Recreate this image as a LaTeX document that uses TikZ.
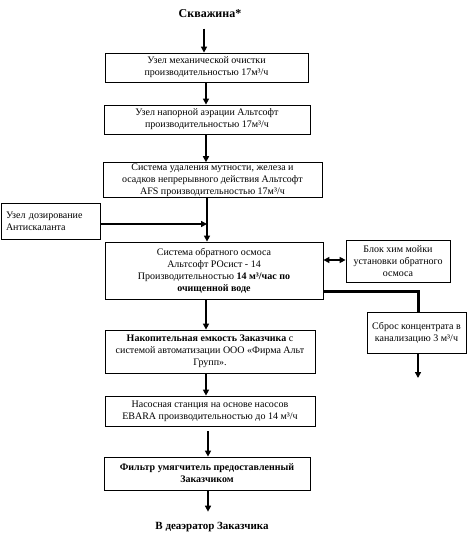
\documentclass[tikz,border=0pt]{standalone}
\usepackage{fontspec}
\setmainfont{Liberation Serif}
\usetikzlibrary{arrows.meta}
\begin{document}
\begin{tikzpicture}[x=1pt,y=-1pt,
  box/.style={draw,line width=0.8pt,align=center,inner sep=1pt,font=\fontsize{10}{12}\selectfont},
  arr/.style={line width=1.8pt,-{Triangle[width=6pt,length=6pt]}},
  darr/.style={line width=1.8pt,{Triangle[width=6pt,length=6pt]}-{Triangle[width=6pt,length=6pt]}},
  heavy/.style={line width=3pt}]
\useasboundingbox (0,0) rectangle (474,545);
\node[font=\fontsize{12}{14}\selectfont\bfseries] (title) at (210,14) {Скважина*};
\node[box,minimum width=203pt,minimum height=29pt] (b1) at (206.5,67.5)
  {Узел механической очистки\\производительностью 17м³/ч};
\node[box,minimum width=206pt,minimum height=29pt] (b2) at (207,119.5)
  {Узел напорной аэрации Альтсофт\\производительностью 17м³/ч};
\node[box,minimum width=219pt,minimum height=31pt] (b3) at (212.5,180)
  {Система удаления мутности, железа и\\осадков непрерывного действия Альтсофт\\AFS производительностью 17м³/ч};
\node[box,align=left,minimum width=99pt,minimum height=36pt,text width=89pt] (dz) at (50.5,221)
  {Узел дозирование\\Антискаланта};
\node[box,minimum width=218pt,minimum height=57pt] (b4) at (214,270.5)
  {Система обратного осмоса\\Альтсофт РОсист - 14\\Производительностью \textbf{14 м³/час по}\\\textbf{очищенной воде}};
\node[box,minimum width=104pt,minimum height=42pt] (bl) at (398,261)
  {Блок хим мойки\\установки обратного\\осмоса};
\node[box,minimum width=99pt,minimum height=41pt] (sb) at (416.5,332.5)
  {Сброс концентрата в\\канализацию 3 м³/ч};
\node[box,minimum width=210pt,minimum height=43pt] (b5) at (210,351.5)
  {\textbf{Накопительная емкость Заказчика} с\\системой автоматизации ООО «Фирма Альт\\Групп».};
\node[box,minimum width=210pt,minimum height=30pt] (b6) at (210,411)
  {Насосная станция на основе насосов\\EBARA производительностью до 14 м³/ч};
\node[box,font=\fontsize{10}{12}\selectfont\bfseries,minimum width=206pt,minimum height=33pt] (b7) at (207,473.5)
  {Фильтр умягчитель предоставленный\\Заказчиком};
\node[font=\fontsize{11}{13}\selectfont\bfseries] (out) at (212,527) {В деаэратор Заказчика};
\coordinate (j) at (207,224);
\coordinate (sbend) at (418,378);
% connectors
\draw[arr,shorten <=7pt] (title.south -| 204,0) -- (b1.north -| 204,0);
\draw[arr] (b1.south -| 206,0) -- (b2.north -| 206,0);
\draw[arr] (b2.south -| 206,0) -- (b3.north -| 206,0);
\draw[arr] (b3.south -| 207,0) -- (b4.north -| 207,0);
\draw[arr] (dz.east |- j) -- (j);
\draw[darr] (b4.east |- 0,260) -- (bl.west |- 0,260);
\draw[heavy] (b4.east |- 0,291) -- (418,291) -- (sb.north -| 418,0);
\draw[arr] (sb.south -| sbend) -- (sbend);
\draw[arr] (b4.south -| 206,0) -- (b5.north -| 206,0);
\draw[arr] (b5.south -| 206,0) -- (b6.north -| 206,0);
\draw[arr,shorten <=5pt] (b6.south -| 208,0) -- (b7.north -| 208,0);
\draw[arr,shorten >=7pt] (b7.south -| 208,0) -- (out.north -| 208,0);
\end{tikzpicture}
\end{document}
